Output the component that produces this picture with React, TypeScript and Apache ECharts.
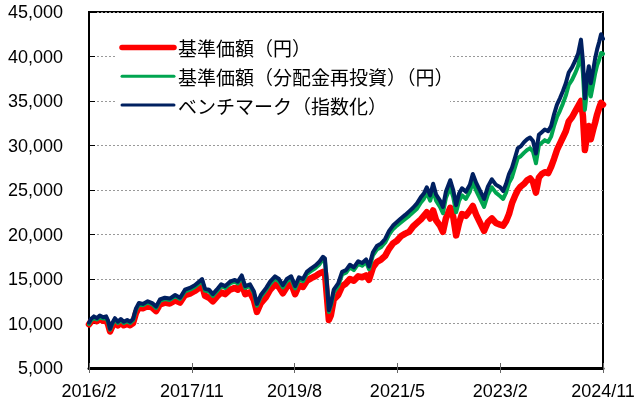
import React, { useEffect, useRef } from "react";
import * as echarts from "echarts";

// months since 2016/2
const months = [
  0, 0.4, 1.0, 1.6, 2.2, 2.9, 3.5, 3.9, 4.3, 4.7, 5.3, 5.9, 6.5, 7.1, 7.8, 8.4, 9.0, 9.6, 10.2, 11.0,
  12.0, 12.9, 13.7, 14.5, 15.5, 16.5, 17.6, 18.6, 19.6, 20.6, 21.6, 22.5, 23.1, 23.7, 24.5, 25.3, 26.1, 27.0, 27.8, 28.8,
  29.8, 30.4, 31.2, 31.9, 32.9, 33.7, 34.3, 35.1, 36.2, 37.0, 38.0, 38.8, 39.6, 40.4, 41.3, 42.1, 42.9, 43.7, 44.5, 45.4,
  46.2, 47.0, 47.8, 48.2, 48.6, 49.0, 49.4, 50.0, 50.9, 51.7, 52.5, 53.3, 54.1, 55.0, 55.8, 56.6, 57.2, 58.0, 58.8, 59.7,
  60.5, 61.3, 62.1, 62.9, 63.7, 64.6, 65.4, 66.2, 67.0, 67.8, 68.4, 69.0, 69.7, 70.3, 70.9, 71.7, 72.3, 72.9, 73.8, 74.4,
  75.0, 75.6, 76.2, 77.0, 77.8, 78.4, 79.1, 79.9, 80.7, 81.5, 82.3, 83.1, 84.0, 84.6, 85.2, 85.8, 86.4, 87.0, 87.6, 88.2,
  88.9, 89.5, 90.1, 90.7, 91.3, 91.9, 92.5, 93.1, 93.8, 94.4, 95.0, 95.6, 96.2, 96.8, 97.4, 98.0, 98.7, 99.3, 99.9, 100.5,
  100.9, 101.3, 101.7, 102.1, 102.5, 103.0, 103.4, 103.8, 104.2, 104.6, 105.0,
];

const navy = [
  10100, 10500, 10800, 10600, 10900, 10700, 10800, 10300, 9400, 10000, 10600, 10200, 10500, 10200, 10400, 10200, 10500, 11700, 12300, 12200,
  12500, 12300, 11900, 12700, 12900, 12800, 13200, 12900, 13800, 14000, 14300, 14700, 15000, 13900, 13800, 13300, 13800, 14400, 14200, 14700,
  14900, 14700, 15400, 14200, 14400, 13600, 12200, 13200, 14000, 14700, 15300, 15000, 14300, 15000, 15300, 14200, 15200, 15000, 15800, 16200,
  16500, 16900, 17500, 17300, 14500, 11500, 12200, 13800, 14500, 15800, 16000, 16600, 16300, 17000, 16800, 17200, 16400, 18000, 18700, 19000,
  19500, 20400, 21000, 21400, 21800, 22200, 22600, 23000, 23500, 24200, 24600, 25300, 24400, 25700, 24500, 23800, 23100, 24800, 26100, 25000,
  23300, 24600, 25200, 24800, 25600, 26800, 25800, 24900, 24000, 25400, 26200, 25600, 25300, 24900, 25700, 26800, 27500, 28600, 29700, 29900,
  30400, 30700, 30900, 30500, 29100, 31200, 31500, 31800, 31600, 32200, 33500, 34600, 35300, 36100, 37000, 38200, 38800, 39500, 40300, 41900,
  39500, 35300, 37500, 38900, 37000, 38500, 39800, 40800, 41600, 42500, 42000,
];

const green = [
  9950, 10350, 10600, 10450, 10700, 10550, 10600, 10150, 9300, 9850, 10450, 10050, 10350, 10050, 10250, 10050, 10350, 11550, 12150, 12050,
  12350, 12150, 11750, 12550, 12750, 12650, 13050, 12750, 13600, 13800, 14100, 14500, 14800, 13700, 13600, 13100, 13600, 14200, 14000, 14500,
  14700, 14500, 15200, 14000, 14200, 13400, 12000, 13000, 13800, 14450, 15050, 14750, 14050, 14750, 15050, 13950, 14950, 14750, 15550, 15900,
  16200, 16600, 17200, 17000, 14200, 11300, 12000, 13500, 14200, 15500, 15700, 16300, 16000, 16700, 16500, 16900, 16100, 17650, 18300, 18600,
  19100, 20000, 20600, 21000, 21350, 21750, 22100, 22500, 22900, 23600, 24000, 24700, 23800, 25000, 23800, 23100, 22400, 24100, 25300, 24200,
  22500, 23800, 24400, 24000, 24800, 25900, 24900, 24000, 23100, 24500, 25300, 24700, 24300, 24000, 24700, 25800, 26400, 27500, 28600, 28800,
  29200, 29500, 29700, 29300, 28000, 30000, 30300, 30600, 30400, 31000, 32200, 33200, 33900, 34700, 35600, 36800, 37400, 38100, 38900, 40500,
  38100, 34000, 36000, 37300, 35500, 36900, 38100, 39000, 39600, 40400, 40300,
];

const red = [
  9900, 10200, 10450, 10250, 10500, 10300, 10400, 9900, 9100, 9600, 10150, 9800, 10100, 9800, 9950, 9800, 10050, 11200, 11800, 11700,
  11950, 11800, 11400, 12150, 12350, 12250, 12600, 12350, 13200, 13350, 13650, 14000, 14300, 13100, 12900, 12500, 13000, 13500, 13300, 13800,
  14000, 13800, 14500, 13300, 13500, 12600, 11300, 12300, 13000, 13800, 14400, 14100, 13400, 14100, 14500, 13300, 14300, 14100, 14800, 15100,
  15300, 15600, 15800, 15700, 13000, 10400, 10900, 12700, 13200, 14200, 14500, 15000, 14800, 15300, 15200, 15400, 14900, 16300, 16900, 17200,
  17600, 18400, 19000, 19300, 19800, 20100, 20300, 20900, 21300, 21700, 22100, 22500, 21800, 22700, 21600, 21000, 20300, 21800, 23000, 22000,
  19900, 21300, 22300, 22100, 22700, 23200, 22200, 21300, 20400, 21400, 21800, 21300, 21100, 21000, 21500, 22300, 23500, 24300, 25000, 25400,
  25700, 26100, 26300, 25900, 24700, 26400, 26800, 27000, 26900, 27600, 28500, 29500, 30200, 30900, 31600, 32700, 33200, 33800, 34400, 35000,
  33300, 29500, 31000, 32200, 30700, 31800, 32600, 33500, 34200, 34800, 34600,
];

const xTickLabels = ["2016/2", "2017/11", "2019/8", "2021/5", "2023/2", "2024/11"];
const seriesNames = ["基準価額（円）", "基準価額（分配金再投資）（円）", "ベンチマーク（指数化）"];
const seriesColors = ["#FF0000", "#00A550", "#002060"];
const seriesWidths = [6.5, 4, 4];
const legendWidths = [5.5, 3, 3];

export default function App() {
  const ref = useRef<HTMLDivElement>(null);

  useEffect(() => {
    if (!ref.current) return;
    const chart = echarts.init(ref.current, undefined, { renderer: "svg" });
    const toPairs = (vals: number[]) => months.map((m, i) => [m, vals[i]]);
    const seriesData = [red, green, navy];

    const labelFont = {
      fontFamily: "'Liberation Sans', Arial, sans-serif",
      fontSize: 18,
      color: "#000",
    };

    const legendItems: any[] = [];
    seriesNames.forEach((name, i) => {
      const y = 47.5 + i * 28.8;
      legendItems.push({
        type: "line",
        shape: { x1: 122, y1: y, x2: 174, y2: y },
        style: { stroke: seriesColors[i], lineWidth: legendWidths[i], lineCap: "round" },
        z: 101,
      });
      legendItems.push({
        type: "text",
        x: 178,
        y: y,
        style: {
          text: name,
          fill: "#000",
          font: "19px 'Noto Sans CJK JP', sans-serif",
          textVerticalAlign: "middle",
          textAlign: "left",
        },
        z: 101,
      });
    });

    chart.setOption({
      animation: false,
      grid: {
        left: 89,
        right: 35,
        top: 12,
        bottom: 35,
        show: true,
        borderColor: "#000",
        borderWidth: 2,
        backgroundColor: "transparent",
      },
      xAxis: [
        {
          type: "value",
          min: 0,
          max: 105,
          interval: 21,
          position: "bottom",
          axisLine: { show: true, onZero: false, lineStyle: { color: "#000", width: 3 } },
          axisTick: { show: true, inside: false, length: 5, lineStyle: { color: "#666", width: 1 } },
          axisLabel: {
            ...labelFont,
            margin: 14,
            formatter: (v: number) => xTickLabels[Math.round(v / 21)] ?? "",
          },
          splitLine: { show: false },
        },
        {
          type: "value",
          min: 0,
          max: 105,
          interval: 21,
          position: "bottom",
          axisLine: { show: false, onZero: false },
          axisTick: { show: true, inside: true, length: 5, lineStyle: { color: "#666", width: 1 } },
          axisLabel: { show: false },
          splitLine: { show: false },
        },
      ],
      yAxis: {
        type: "value",
        min: 5000,
        max: 45000,
        interval: 5000,
        axisLine: { show: true, onZero: false, lineStyle: { color: "#000", width: 2 } },
        axisTick: { show: true, inside: true, length: 6, lineStyle: { color: "#000", width: 1 } },
        axisLabel: {
          ...labelFont,
          margin: 26,
          formatter: (v: number) => v.toLocaleString("en-US"),
        },
        splitLine: { show: true, lineStyle: { color: "#999", width: 1, type: [2, 2] } },
      },
      series: seriesData.map((vals, i) => ({
        name: seriesNames[i],
        type: "line",
        xAxisIndex: 0,
        data: toPairs(vals),
        showSymbol: false,
        symbol: "none",
        lineStyle: { color: seriesColors[i], width: seriesWidths[i], join: "round", cap: "round" },
        itemStyle: { color: seriesColors[i] },
        z: 2 + i,
      })),
      graphic: [
        {
          type: "rect",
          shape: { x: 115, y: 28, width: 335, height: 95 },
          style: { fill: "#fff" },
          z: 100,
        },
        ...legendItems,
      ],
    });

    return () => chart.dispose();
  }, []);

  return (
    <div
      ref={ref}
      style={{ position: "fixed", left: 0, top: 0, width: 638, height: 403 }}
    />
  );
}
